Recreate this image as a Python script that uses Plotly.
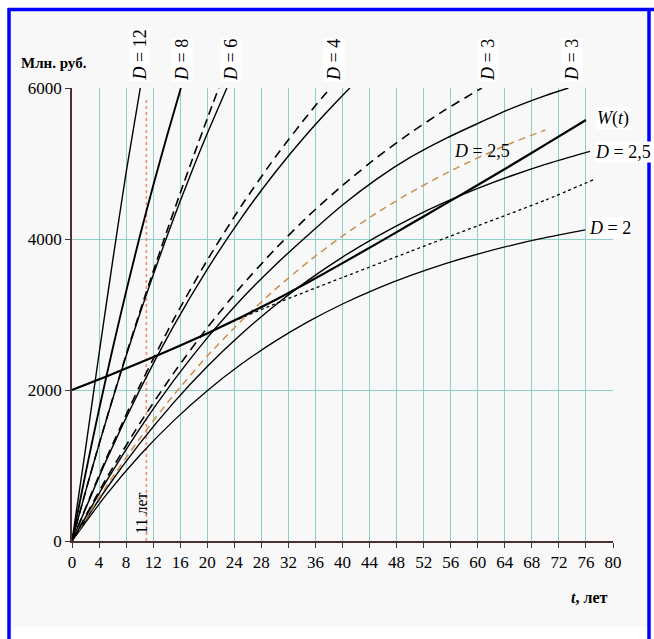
import plotly.graph_objects as go

# ---------------- data ----------------
x_ticks = list(range(0, 81, 4))
y_ticks = [0, 2000, 4000, 6000]

d12_t = [0, 2, 4, 6, 8, 10.1]
d12_v = [0, 1220, 2480, 3700, 4880, 6000]

d8_t = [0, 2, 4, 6, 8, 10, 12, 14, 16.1]
d8_v = [0, 893, 1741, 2543, 3303, 4026, 4704, 5351, 6000]

d6_t = [0, 2, 4, 6, 8, 10, 12, 14, 16, 18, 20, 22.9]
d6_v = [0, 654, 1280, 1878, 2451, 2999, 3522, 4023, 4502, 4959, 5397, 6000]

d6d_t = [0, 2, 4, 6, 8, 10, 12, 14, 16, 18, 20, 21.7]
d6d_v = [0, 655, 1282, 1884, 2465, 3026, 3568, 4095, 4607, 5106, 5594, 6000]

d4_t = [0, 5, 10, 15, 20, 25, 30, 35, 40, 41.1]
d4_v = [0, 1055, 1999, 2843, 3598, 4274, 4878, 5418, 5902, 6000]

d4d_t = [0, 5, 10, 15, 20, 25, 30, 35, 38.2]
d4d_v = [0, 1079, 2051, 2929, 3720, 4434, 5077, 5658, 6000]

d3_t = [0, 5, 10, 15, 20, 25, 30, 35, 40, 45, 50, 55, 60, 65, 70, 73.4]
d3_v = [0, 780, 1485, 2120, 2690, 3200, 3650, 4060, 4450, 4790, 5080, 5320, 5530, 5730, 5900, 6000]

d3d_t = [0, 5, 10, 15, 20, 25, 30, 35, 40, 45, 50, 55, 60.6]
d3d_v = [0, 816, 1554, 2220, 2825, 3371, 3863, 4310, 4710, 5074, 5403, 5700, 6000]

d25d_t = [0, 5, 10, 15, 20, 25, 30, 35, 40, 45, 50, 55, 60, 65, 70]
d25d_v = [0, 714, 1355, 1931, 2449, 2913, 3329, 3704, 4040, 4342, 4613, 4857, 5075, 5272, 5444]

d25_t = [0, 5, 10, 15, 20, 25, 30, 35, 40, 45, 50, 55, 60, 65, 70, 75, 76.6]
d25_v = [0, 682, 1290, 1830, 2311, 2738, 3120, 3459, 3761, 4029, 4268, 4481, 4670, 4838, 4989, 5121, 5161]

w_t = [0, 5, 10, 15, 20, 25, 30, 35, 40, 45, 50, 55, 60, 65, 70, 76]
w_v = [2000, 2175, 2360, 2550, 2750, 2965, 3190, 3430, 3680, 3935, 4195, 4455, 4715, 4980, 5250, 5576]

dot_t = [19, 24, 30, 40, 50, 60, 70, 77.5]
dot_v = [2710, 2915, 3140, 3490, 3835, 4175, 4515, 4800]

d2_t = [0, 5, 10, 15, 20, 25, 30, 35, 40, 45, 50, 55, 60, 65, 70, 75.9]
d2_v = [0, 605, 1132, 1591, 1991, 2340, 2644, 2909, 3139, 3340, 3515, 3668, 3801, 3917, 4017, 4120]

mark_t = 11  # "11 лет"

# ---------------- figure ----------------
W, H = 654, 639
L, R, T, B = 72, 41, 88, 98
PW, PH = W - L - R, H - T - B


def px(x):
    return (x - L) / PW


def py(y):
    return (H - B - y) / PH


FONT = "Liberation Serif"
fig = go.Figure()


def add(t, v, color="black", width=1.3, dash="solid"):
    fig.add_trace(go.Scatter(x=t, y=v, mode="lines",
                             line=dict(color=color, width=width, dash=dash, shape="spline", smoothing=0.6),
                             hoverinfo="skip", showlegend=False, cliponaxis=True))


add([mark_t, mark_t], [0, 5850], color="#f08c78", width=1.6, dash="dot")
add(d2_t, d2_v, width=1.3)
add(dot_t, dot_v, width=1.3, dash="dot")
add(d25_t, d25_v, width=1.4)
add(d25d_t, d25d_v, color="#c8904e", width=1.5, dash="7px,5px")
add(d3_t, d3_v, width=1.4)
add(d3d_t, d3d_v, width=1.6, dash="9px,6px")
add(d4_t, d4_v, width=1.4)
add(d4d_t, d4d_v, width=1.6, dash="9px,6px")
add(d6_t, d6_v, width=1.4)
add(d6d_t, d6d_v, width=1.6, dash="9px,5px")
add(d8_t, d8_v, width=1.9)
add(d12_t, d12_v, width=1.4)
add(w_t, w_v, width=2.2)

grid_col = "#8fd0c8"
axis_font = dict(family=FONT, size=17, color="black")
fig.update_xaxes(range=[0, 80], tickvals=x_ticks, ticktext=[str(v) for v in x_ticks],
                 showgrid=True, gridcolor=grid_col, gridwidth=1, zeroline=False,
                 showline=True, linecolor="#4a3232", linewidth=1.5, ticks="outside",
                 ticklen=5, tickcolor="#4a3232", tickfont=axis_font)
fig.update_yaxes(range=[0, 6000], tickvals=y_ticks, ticktext=[str(v) for v in y_ticks],
                 showgrid=True, gridcolor=grid_col, gridwidth=1, zeroline=False,
                 showline=True, linecolor="#4a3232", linewidth=1.5, ticks="outside",
                 ticklen=5, tickcolor="#4a3232", tickfont=axis_font)

ann = []


def label(text, x, y, angle=0, xa="center", ya="middle", size=17, bg="white"):
    ann.append(dict(text=text, x=px(x), y=py(y), xref="paper", yref="paper", showarrow=False,
                    textangle=angle, xanchor=xa, yanchor=ya, bgcolor=bg, borderpad=0,
                    font=dict(family=FONT, size=size, color="black")))


for txt, xc in [("<i>D</i> = 12", 140), ("<i>D</i> = 8", 182), ("<i>D</i> = 6", 231),
                ("<i>D</i> = 4", 334), ("<i>D</i> = 3", 488), ("<i>D</i> = 3", 572)]:
    label(txt, xc, 82, angle=-90, ya="bottom", size=18)

label("<i>W</i>(<i>t</i>)", 596, 118, xa="left", size=18)
label("<i>D</i> = 2,5", 594, 152, xa="left", size=18)
label("<i>D</i> = 2", 588, 228, xa="left", size=18)
label("<i>D</i> = 2,5", 482, 151, bg="rgba(0,0,0,0)", size=18)
label("11 лет", 141, 514, angle=-90, size=16, bg="rgba(0,0,0,0)")
label("<b>Млн. руб.</b>", 20, 63, xa="left", size=15, bg="rgba(0,0,0,0)")
label("<b><i>t</i>, лет</b>", 589, 597, size=16, bg="rgba(0,0,0,0)")

shapes = [
    dict(type="rect", xref="paper", yref="paper", x0=px(11), x1=px(647), y0=py(11), y1=py(627),
         fillcolor="#f8f8f8", line=dict(width=0), layer="below"),
    dict(type="line", xref="paper", yref="paper", x0=px(8), x1=px(654), y0=py(9.5), y1=py(9.5),
         line=dict(color="#0000ff", width=3.5)),
    dict(type="line", xref="paper", yref="paper", x0=px(9), x1=px(9), y0=py(8), y1=py(639),
         line=dict(color="#0000ff", width=3.5)),
    dict(type="line", xref="paper", yref="paper", x0=px(649), x1=px(649), y0=py(8), y1=py(639),
         line=dict(color="#0000ff", width=3.5)),
]

fig.update_layout(width=W, height=H, margin=dict(l=L, r=R, t=T, b=B, pad=0),
                  paper_bgcolor="white", plot_bgcolor="white",
                  annotations=ann, shapes=shapes, showlegend=False)

fig.write_html("out.html", config={"displayModeBar": False},
               post_script="document.body.style.margin='0';document.body.style.overflow='hidden';")
